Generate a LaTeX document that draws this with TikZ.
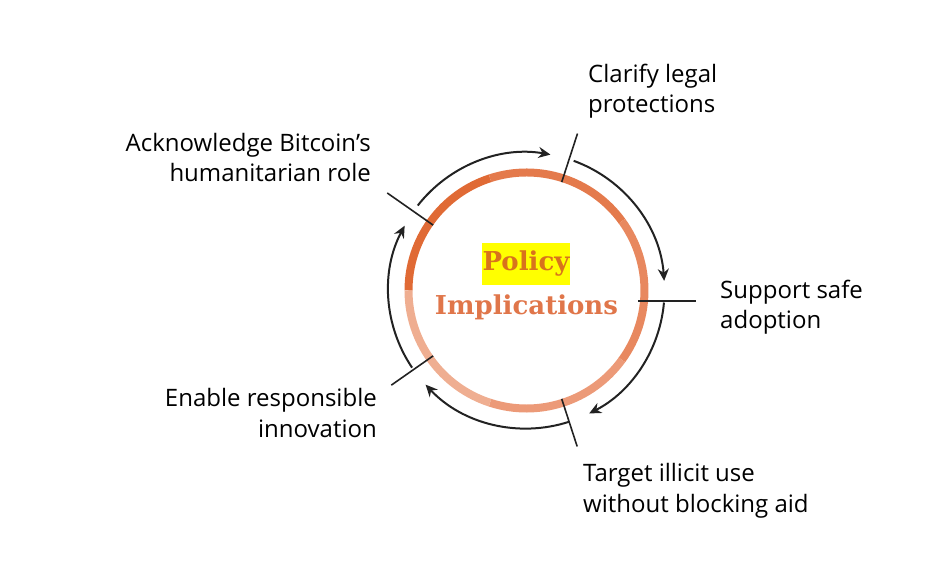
\documentclass[tikz,border=0pt]{standalone}
\usepackage{fontspec}
\setmainfont{Open Sans}
\newfontfamily\titlefont{DejaVu Serif}
\usetikzlibrary{arrows.meta}

\definecolor{segA}{HTML}{E06A35}
\definecolor{segB}{HTML}{E47A4C}
\definecolor{segC}{HTML}{E8885F}
\definecolor{segD}{HTML}{EC9A78}
\definecolor{segE}{HTML}{EFAE91}
\definecolor{inkline}{HTML}{222222}
\definecolor{hilite}{HTML}{FFFF00}
\definecolor{policytxt}{HTML}{D8731C}
\definecolor{impltxt}{HTML}{E0764A}

\tikzset{
  ringseg/.style={line width=8pt},
  tickline/.style={line width=1.6pt, draw=inkline},
  cycarrow/.style={line width=2pt, draw=inkline, -{Stealth[length=12pt,width=11pt]}},
  notetext/.style={font=\fontsize{24}{30.5}\selectfont, text=black, inner sep=0pt}
}

\begin{document}
\begin{tikzpicture}[x=1pt,y=1pt]
                \useasboundingbox (-526.5,-281.5) rectangle (405.5,290.5);
                \coordinate (O) at (0,0);

                % ring, five shades
                \foreach \a/\c in {180/segA,108/segB,36/segC,-36/segD,-108/segE}
                    \draw[ringseg,\c] (\a:118pt) arc[start angle=\a, delta angle=-72, radius=118pt];

                % ticks
                \coordinate (Tin1) at (72:114pt);
                \coordinate (Tout1) at (72:165pt);
                \coordinate (Tin2) at (111.5,-10.5);
                \coordinate (Tout2) at (169.5,-10.5);
                \coordinate (Tin3) at (-72:114pt);
                \coordinate (Tout3) at (-72:164pt);
                \coordinate (Tin4) at (-145:114pt);
                \coordinate (Tout4) at (-145:165pt);
                \coordinate (Tin5) at (145:114pt);
                \coordinate (Tout5) at (145:170pt);
                \foreach \i in {1,...,5}
                    \draw[tickline] (Tin\i) -- (Tout\i);

                % arrows round the ring
                \draw[cycarrow] (142:138pt) arc[start angle=142, end angle=80, radius=138pt];
                \draw[cycarrow] (70:138pt) arc[start angle=70, end angle=4, radius=138pt];
                \draw[cycarrow] (-5:138pt) arc[start angle=-5, end angle=-63, radius=138pt];
                \draw[cycarrow] (-72:138pt) arc[start angle=-72, end angle=-137, radius=138pt];
                \draw[cycarrow] (-146:138pt) arc[start angle=-146, end angle=-208, radius=138pt];

                % centre
                \node[fill=hilite, minimum width=88pt, minimum height=42pt, inner sep=0pt,
                      font=\titlefont\bfseries\fontsize{26}{30}\selectfont, text=policytxt]
                      (policy) at (-0.5,26.5) {Policy};
                \node[font=\titlefont\bfseries\fontsize{26}{30}\selectfont, text=impltxt, anchor=base]
                      (impl) at (0,-24.5) {Implications};

                % labels (anchored on the last line)
                \node[notetext, align=left, anchor=base west] (clarify) at (61.5,177.5)
                      {Clarify legal\\protections};
                \node[notetext, align=left, anchor=base west] (support) at (193.5,-38.5)
                      {Support safe\\adoption};
                \node[notetext, align=left, anchor=base west] (target) at (56.5,-222)
                      {Target illicit use\\without blocking aid};
                \node[notetext, align=right, anchor=base east] (enable) at (-149.5,-147)
                      {Enable responsible\\innovation};
                \node[notetext, align=right, anchor=base east] (acknow) at (-155.5,108.5)
                      {Acknowledge Bitcoin’s\\humanitarian role};
            \end{tikzpicture}
\end{document}
